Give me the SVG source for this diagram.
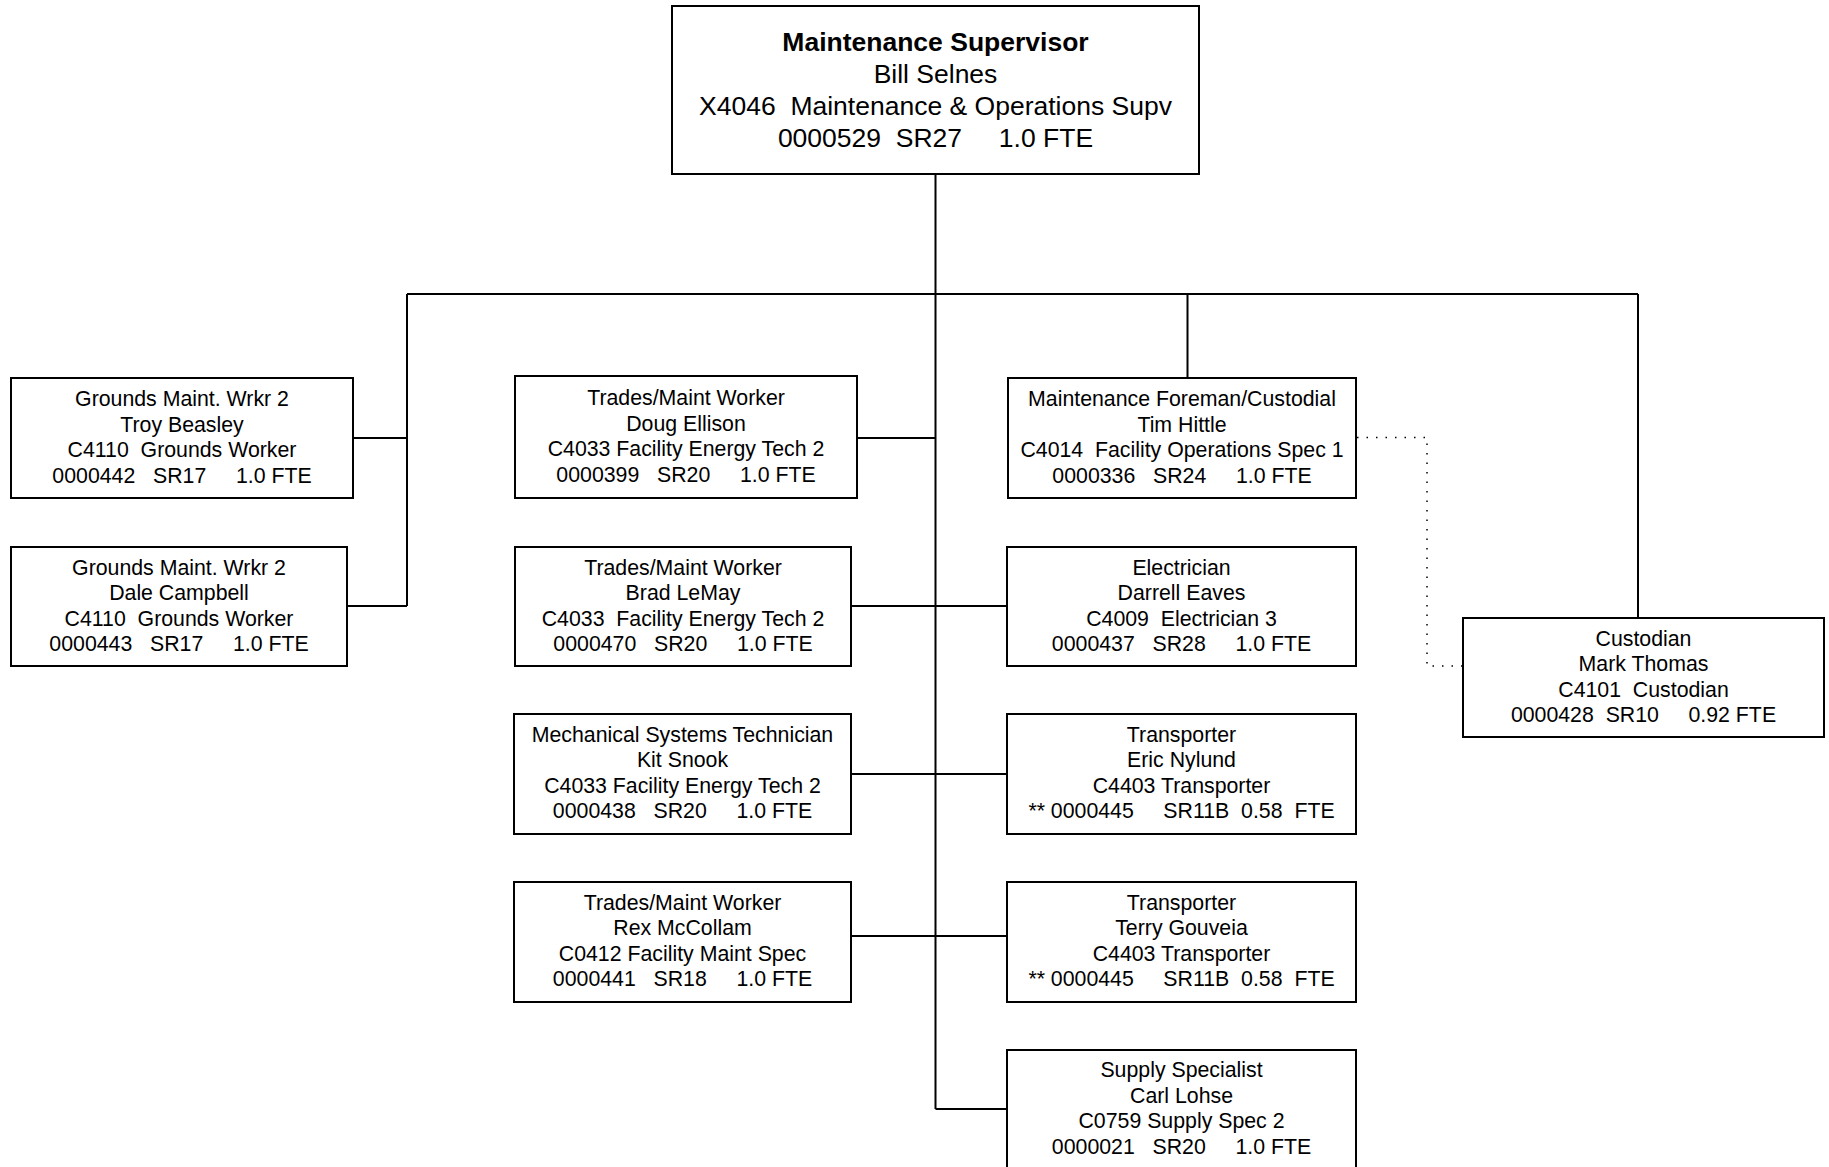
<svg xmlns="http://www.w3.org/2000/svg" width="1829" height="1167" viewBox="0 0 1829 1167">
<style>
.box{fill:#fff;stroke:#000;stroke-width:2}
.ln{fill:none;stroke:#000;stroke-width:2}
.dot{fill:none;stroke:#000;stroke-width:1.5;stroke-dasharray:1.5 8}
text{font-family:"Liberation Sans",Arial,sans-serif;fill:#000;text-anchor:middle;white-space:pre}
.n{font-size:21.3px}
.t{font-size:26.5px}
.b{font-weight:bold}
</style>
<rect width="1829" height="1167" fill="#fff"/>
<g id="connectors">
<path class="ln" d="M935.5 174V1109M407 294H1638M1187.5 294V378M1638 294V618M407 294V606M353 438H407M347 606H407M857 438H935.5M851 606H1007M851 774H1007M851 936H1007M935.5 1109H1007"/>
<path class="dot" d="M1357 437.5H1427V666H1463"/>
</g>
<g id="supervisor">
<rect class="box" x="672" y="6" width="527" height="168"/>
<text class="t b" x="935.5" y="51">Maintenance Supervisor</text>
<text class="t" x="935.5" y="83">Bill Selnes</text>
<text class="t" x="935.5" y="115">X4046  Maintenance &amp; Operations Supv</text>
<text class="t" x="935.5" y="147">0000529  SR27     1.0 FTE</text>
</g>
<g id="grounds1">
<rect class="box" x="11" y="378" width="342" height="120"/>
<text class="n" x="182" y="406">Grounds Maint. Wrkr 2</text>
<text class="n" x="182" y="431.5">Troy Beasley</text>
<text class="n" x="182" y="457">C4110  Grounds Worker</text>
<text class="n" x="182" y="482.5">0000442   SR17     1.0 FTE</text>
</g>
<g id="grounds2">
<rect class="box" x="11" y="547" width="336" height="119"/>
<text class="n" x="179" y="574.5">Grounds Maint. Wrkr 2</text>
<text class="n" x="179" y="600">Dale Campbell</text>
<text class="n" x="179" y="625.5">C4110  Grounds Worker</text>
<text class="n" x="179" y="651">0000443   SR17     1.0 FTE</text>
</g>
<g id="doug">
<rect class="box" x="515" y="376" width="342" height="122"/>
<text class="n" x="686" y="405">Trades/Maint Worker</text>
<text class="n" x="686" y="430.5">Doug Ellison</text>
<text class="n" x="686" y="456">C4033 Facility Energy Tech 2</text>
<text class="n" x="686" y="481.5">0000399   SR20     1.0 FTE</text>
</g>
<g id="brad">
<rect class="box" x="515" y="547" width="336" height="119"/>
<text class="n" x="683" y="574.5">Trades/Maint Worker</text>
<text class="n" x="683" y="600">Brad LeMay</text>
<text class="n" x="683" y="625.5">C4033  Facility Energy Tech 2</text>
<text class="n" x="683" y="651">0000470   SR20     1.0 FTE</text>
</g>
<g id="mech">
<rect class="box" x="514" y="714" width="337" height="120"/>
<text class="n" x="682.5" y="741.5">Mechanical Systems Technician</text>
<text class="n" x="682.5" y="767">Kit Snook</text>
<text class="n" x="682.5" y="792.5">C4033 Facility Energy Tech 2</text>
<text class="n" x="682.5" y="818">0000438   SR20     1.0 FTE</text>
</g>
<g id="rex">
<rect class="box" x="514" y="882" width="337" height="120"/>
<text class="n" x="682.5" y="909.5">Trades/Maint Worker</text>
<text class="n" x="682.5" y="935">Rex McCollam</text>
<text class="n" x="682.5" y="960.5">C0412 Facility Maint Spec</text>
<text class="n" x="682.5" y="986">0000441   SR18     1.0 FTE</text>
</g>
<g id="foreman">
<rect class="box" x="1008" y="378" width="348" height="120"/>
<text class="n" x="1182" y="406">Maintenance Foreman/Custodial</text>
<text class="n" x="1182" y="431.5">Tim Hittle</text>
<text class="n" x="1182" y="457">C4014  Facility Operations Spec 1</text>
<text class="n" x="1182" y="482.5">0000336   SR24     1.0 FTE</text>
</g>
<g id="electrician">
<rect class="box" x="1007" y="547" width="349" height="119"/>
<text class="n" x="1181.5" y="574.5">Electrician</text>
<text class="n" x="1181.5" y="600">Darrell Eaves</text>
<text class="n" x="1181.5" y="625.5">C4009  Electrician 3</text>
<text class="n" x="1181.5" y="651">0000437   SR28     1.0 FTE</text>
</g>
<g id="transporter1">
<rect class="box" x="1007" y="714" width="349" height="120"/>
<text class="n" x="1181.5" y="741.5">Transporter</text>
<text class="n" x="1181.5" y="767">Eric Nylund</text>
<text class="n" x="1181.5" y="792.5">C4403 Transporter</text>
<text class="n" x="1181.5" y="818">** 0000445     SR11B  0.58  FTE</text>
</g>
<g id="transporter2">
<rect class="box" x="1007" y="882" width="349" height="120"/>
<text class="n" x="1181.5" y="909.5">Transporter</text>
<text class="n" x="1181.5" y="935">Terry Gouveia</text>
<text class="n" x="1181.5" y="960.5">C4403 Transporter</text>
<text class="n" x="1181.5" y="986">** 0000445     SR11B  0.58  FTE</text>
</g>
<g id="supply">
<rect class="box" x="1007" y="1050" width="349" height="122"/>
<text class="n" x="1181.5" y="1077">Supply Specialist</text>
<text class="n" x="1181.5" y="1102.5">Carl Lohse</text>
<text class="n" x="1181.5" y="1128">C0759 Supply Spec 2</text>
<text class="n" x="1181.5" y="1153.5">0000021   SR20     1.0 FTE</text>
</g>
<g id="custodian">
<rect class="box" x="1463" y="618" width="361" height="119"/>
<text class="n" x="1643.5" y="645.5">Custodian</text>
<text class="n" x="1643.5" y="671">Mark Thomas</text>
<text class="n" x="1643.5" y="696.5">C4101  Custodian</text>
<text class="n" x="1643.5" y="722">0000428  SR10     0.92 FTE</text>
</g>
</svg>
